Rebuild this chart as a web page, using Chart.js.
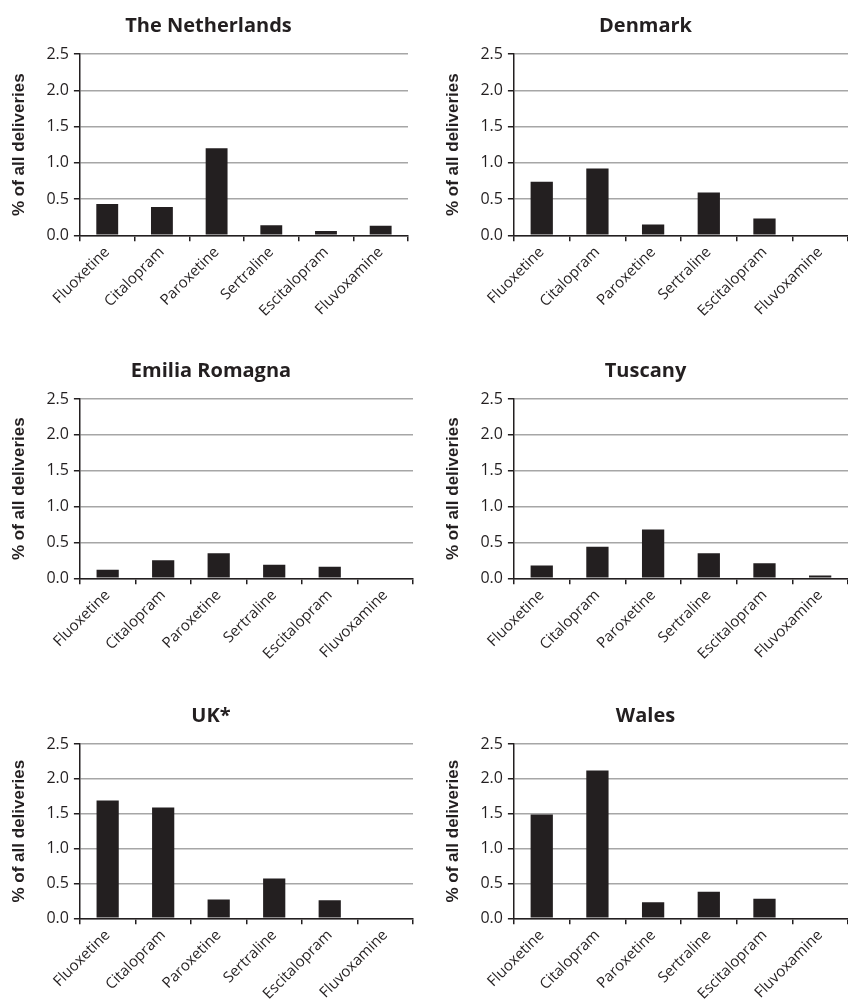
<!DOCTYPE html>
<html>
<head>
<meta charset="utf-8">
<script src="https://cdn.jsdelivr.net/npm/chart.js@4.4.1/dist/chart.umd.min.js"></script>
<style>
 html, body { margin: 0; padding: 0; background: #fff; }
 body { width: 848px; height: 1005px; position: relative; overflow: hidden; }
 .panel { position: absolute; width: 424px; }
 .panel canvas { display: block; }
</style>
</head>
<body>
<div class="panel" style="left:0;top:0;height:322px"><canvas id="c0"></canvas></div>
<div class="panel" style="left:424px;top:0;height:322px"><canvas id="c1"></canvas></div>
<div class="panel" style="left:0;top:345px;height:320px"><canvas id="c2"></canvas></div>
<div class="panel" style="left:424px;top:345px;height:320px"><canvas id="c3"></canvas></div>
<div class="panel" style="left:0;top:690px;height:315px"><canvas id="c4"></canvas></div>
<div class="panel" style="left:424px;top:690px;height:315px"><canvas id="c5"></canvas></div>
<script>
var drugs = ["Fluoxetine", "Citalopram", "Paroxetine", "Sertraline", "Escitalopram", "Fluvoxamine"];
var yTicks = [0, 0.5, 1.0, 1.5, 2.0, 2.5];

var netherlands = [0.43, 0.39, 1.20, 0.14, 0.06, 0.13];
var denmark = [0.74, 0.92, 0.15, 0.59, 0.23, 0];
var emiliaRomagna = [0.12, 0.25, 0.35, 0.19, 0.16, 0.01];
var tuscany = [0.18, 0.44, 0.68, 0.35, 0.21, 0.04];
var uk = [1.69, 1.59, 0.27, 0.57, 0.26, 0];
var wales = [1.49, 2.12, 0.23, 0.38, 0.28, 0];

var panels = [
 { id: "c0", title: "The Netherlands", data: netherlands, left: 9, right: 16 },
 { id: "c1", title: "Denmark", data: denmark, left: 19, right: 0 },
 { id: "c2", title: "Emilia Romagna", data: emiliaRomagna, left: 9, right: 11 },
 { id: "c3", title: "Tuscany", data: tuscany, left: 19, right: 0 },
 { id: "c4", title: "UK*", data: uk, left: 9, right: 11 },
 { id: "c5", title: "Wales", data: wales, left: 19, right: 0 },
];

var fontFam = "'Open Sans', 'Liberation Sans', sans-serif";
var axisDark = "#231f20";

function drawPanel(p) {
 var el = document.getElementById(p.id);
 new Chart(el, {
  type: "bar",
  data: {
   labels: drugs,
   datasets: [{
    label: p.title,
    data: p.data,
    backgroundColor: "#231f20",
    borderWidth: 0,
    categoryPercentage: 1.0,
    barPercentage: 0.4,
   }],
  },
  options: {
   responsive: true,
   maintainAspectRatio: false,
   animation: false,
   layout: { padding: { left: p.left, right: p.right, top: 0, bottom: 0 } },
   plugins: {
    legend: { display: false },
    tooltip: { enabled: false },
    title: {
     display: true,
     text: p.title,
     color: axisDark,
     font: { family: fontFam, size: 20, weight: "bold" },
     padding: { top: 14, bottom: 16 },
    },
   },
   scales: {
    x: {
     offset: true,
     grid: { display: true, drawOnChartArea: false, drawTicks: true, tickLength: 6, offset: true, color: axisDark, lineWidth: 1.5 },
     border: { color: axisDark, width: 1.5 },
     ticks: {
      color: axisDark,
      minRotation: 45,
      maxRotation: 45,
      padding: 2,
      font: { family: fontFam, size: 15 },
     },
    },
    y: {
     min: 0,
     max: 2.5,
     afterBuildTicks: function (axis) {
      axis.ticks = yTicks.map(function (v) { return { value: v }; });
     },
     grid: { color: "#a6a6a6", lineWidth: 1.5, tickLength: 6, tickColor: axisDark },
     border: { color: axisDark, width: 1.5 },
     ticks: {
      color: axisDark,
      padding: 5,
      font: { family: fontFam, size: 16 },
      callback: function (v) { return Number(v).toFixed(1); },
     },
     title: {
      display: true,
      text: "% of all deliveries",
      color: axisDark,
      font: { family: "'Liberation Sans', Arial, sans-serif", size: 17, weight: "bold" },
      padding: { top: 0, bottom: 12 },
     },
    },
   },
  },
 });
}

panels.forEach(drawPanel);
</script>
</body>
</html>
